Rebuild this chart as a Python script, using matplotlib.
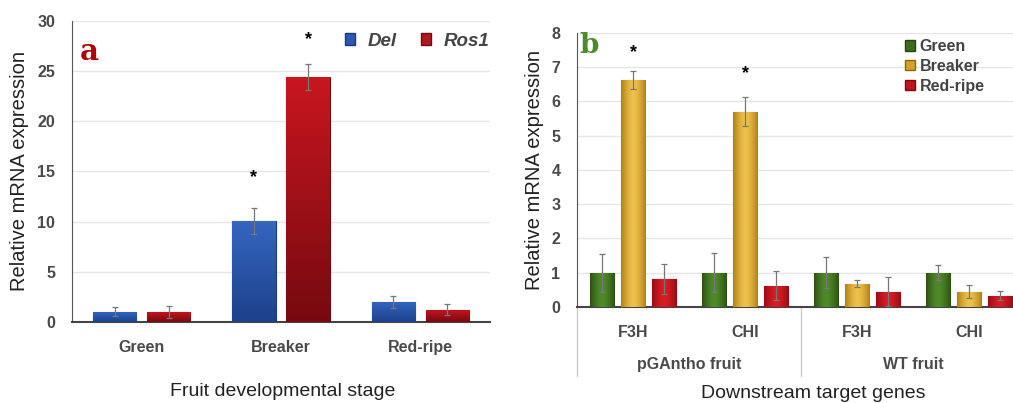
import numpy as np
import matplotlib.pyplot as plt
from matplotlib.patches import Patch
from matplotlib.lines import Line2D
from matplotlib.colors import LinearSegmentedColormap

plt.rcParams['font.family'] = ['Liberation Sans', 'DejaVu Sans']

# panel a data
stages = ['Green', 'Breaker', 'Red-ripe']
del_vals = [1.0, 10.1, 2.0]
del_err = [0.45, 1.3, 0.6]
ros_vals = [1.0, 24.4, 1.2]
ros_err = [0.6, 1.3, 0.55]
stars_a = [(1, 'Del', 14.4), (1, 'Ros1', 28.1)]

# panel b data
genes = ['F3H', 'CHI', 'F3H', 'CHI']
fruit_groups = ['pGAntho fruit', 'WT fruit']
green_vals = [1.0, 1.0, 1.0, 1.0]
green_err = [0.55, 0.57, 0.45, 0.22]
breaker_vals = [6.62, 5.7, 0.68, 0.45]
breaker_err = [0.27, 0.42, 0.1, 0.2]
redripe_vals = [0.82, 0.62, 0.45, 0.33]
redripe_err = [0.45, 0.43, 0.42, 0.13]
stars_b = [(0, 7.42), (1, 6.8)]

tick_col = '#4a4a4a'
grid_col = '#e6e6e6'
err_kw = dict(ecolor='#777777', elinewidth=0.9, capsize=2.5, capthick=0.9, zorder=5)


def shade(ax, bars, colors, vertical):
    # paint a gradient inside each bar, clipped to the bar outline
    cmap = LinearSegmentedColormap.from_list('g', colors)
    if vertical:
        grad = np.linspace(0, 1, 64).reshape(-1, 1)
    else:
        t = np.linspace(-1, 1, 64)
        grad = (np.abs(t) ** 1.5).reshape(1, -1)
    for b in bars:
        x0, y0 = b.get_x(), b.get_y()
        im = ax.imshow(grad, cmap=cmap, aspect='auto', origin='upper' if vertical else 'lower',
                       extent=[x0, x0 + b.get_width(), y0, y0 + b.get_height()],
                       zorder=3.5, vmin=0, vmax=1)
        im.set_clip_path(b)


def style_axes(ax):
    ax.tick_params(axis='both', length=0)
    ax.tick_params(axis='x', pad=13)
    ax.tick_params(axis='y', pad=12)
    for t in ax.get_yticklabels():
        t.set_fontweight('bold')
        t.set_fontsize(11.5)
        t.set_color(tick_col)
    ax.yaxis.grid(True, color=grid_col, linewidth=1, zorder=0)
    ax.set_axisbelow(True)
    for s in ['top', 'right']:
        ax.spines[s].set_visible(False)
    ax.spines['left'].set_color('#555555')
    ax.spines['bottom'].set_color('#444444')
    ax.spines['bottom'].set_linewidth(1.5)


fig = plt.figure(figsize=(10.13, 4.03), dpi=100)

# ---- panel a ----
ax = fig.add_axes([0.0711, 0.201, 0.4126, 0.747])
x = np.arange(len(stages))
w = 0.31
off = 0.194
b1 = ax.bar(x - off, del_vals, w, yerr=del_err, color='#2d58ad', edgecolor='#1c3a78',
            linewidth=0.8, error_kw=err_kw, zorder=3)
b2 = ax.bar(x + off, ros_vals, w, yerr=ros_err, color='#b3161f', edgecolor='#6e0c12',
            linewidth=0.8, error_kw=err_kw, zorder=3)
shade(ax, b1, ['#3566c0', '#1d418a'], True)
shade(ax, b2, ['#c8161f', '#760a10'], True)
for i, s, y in stars_a:
    ax.text(i + (-off if s == 'Del' else off), y, '*', ha='center', va='center',
            fontsize=13, fontweight='bold', color='black')
ax.set_xlim(-0.5, 2.5)
ax.set_ylim(0, 30)
ax.set_yticks(range(0, 31, 5))
ax.set_xticks(x)
ax.set_xticklabels(stages, fontsize=11.5, fontweight='bold', color=tick_col)
style_axes(ax)
ax.set_ylabel('Relative mRNA expression', fontsize=14.5, color='#222222', labelpad=6)
fig.text(283 / 1013, 1 - 392 / 403, 'Fruit developmental stage', ha='center', va='center',
         fontsize=14, color='#222222')
ax.text(0.018, 0.9, 'a', transform=ax.transAxes, fontsize=21, fontweight='bold',
        family='DejaVu Serif', color='#b00000', va='center')
leg = ax.legend(handles=[Patch(facecolor='#2d58ad', edgecolor='#1c3a78', label='Del'),
                         Patch(facecolor='#b3161f', edgecolor='#6e0c12', label='Ros1')],
                loc='upper right', ncol=2, frameon=False, handlelength=0.5, handleheight=0.55,
                columnspacing=1.3, handletextpad=0.7, bbox_to_anchor=(1.03, 1.005),
                borderaxespad=0.3, prop=dict(size=13.5, weight='bold', style='italic'))
for t in leg.get_texts():
    t.set_color('#444444')

# ---- panel b ----
bx = fig.add_axes([0.5696, 0.2382, 0.4423, 0.680])
xb = np.arange(len(genes))
wb = 0.22
ob = 0.277
g1 = bx.bar(xb - ob, green_vals, wb, yerr=green_err, color='#3d6b1e', edgecolor='#254512',
            linewidth=0.8, error_kw=err_kw, zorder=3)
g2 = bx.bar(xb, breaker_vals, wb, yerr=breaker_err, color='#d3a02c', edgecolor='#8c6712',
            linewidth=0.8, error_kw=err_kw, zorder=3)
g3 = bx.bar(xb + ob, redripe_vals, wb, yerr=redripe_err, color='#c0141e', edgecolor='#7a0a10',
            linewidth=0.8, error_kw=err_kw, zorder=3)
shade(bx, g1, ['#4f8a2a', '#2c5212'], False)
shade(bx, g2, ['#eec24a', '#b27f1a'], False)
shade(bx, g3, ['#da1c26', '#980c14'], False)
for i, y in stars_b:
    bx.text(i, y, '*', ha='center', va='center', fontsize=13, fontweight='bold', color='black')
bx.set_xlim(-0.5, 3.5)
bx.set_ylim(0, 8)
bx.set_yticks(range(0, 9))
bx.set_xticks(xb)
bx.set_xticklabels(genes, fontsize=11.5, fontweight='bold', color=tick_col)
style_axes(bx)
bx.set_ylabel('Relative mRNA expression', fontsize=14.5, color='#222222', labelpad=5)
trans = bx.get_xaxis_transform()
for k, name in enumerate(fruit_groups):
    bx.text(2 * k + 0.5, -0.21, name, transform=trans, ha='center', va='center',
            fontsize=11.5, fontweight='bold', color=tick_col)
for xv in [-0.5, 1.5]:
    bx.add_line(Line2D([xv, xv], [0, -0.25], transform=trans, color='#cccccc',
                       linewidth=1, clip_on=False))
fig.text(813 / 1013, 1 - 393 / 403, 'Downstream target genes', ha='center', va='center',
         fontsize=14, color='#222222')
bx.text(0.006, 0.955, 'b', transform=bx.transAxes, fontsize=20, fontweight='bold',
        family='DejaVu Serif', color='#4c8a2a', va='center')
legb = bx.legend(handles=[Patch(facecolor='#3d6b1e', edgecolor='#254512', label='Green'),
                          Patch(facecolor='#d3a02c', edgecolor='#8c6712', label='Breaker'),
                          Patch(facecolor='#c0141e', edgecolor='#7a0a10', label='Red-ripe')],
                 loc='upper left', bbox_to_anchor=(0.7, 1.03), frameon=False,
                 handlelength=0.6, handleheight=0.6, handletextpad=0.3, labelspacing=0.3,
                 prop=dict(size=11.5, weight='bold'))
for t in legb.get_texts():
    t.set_color('#444444')

fig.savefig('out.png', dpi=100)
